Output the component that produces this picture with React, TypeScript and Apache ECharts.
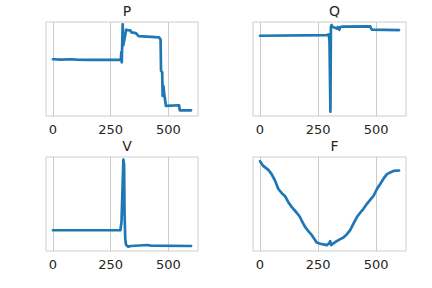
import React, { useEffect, useRef } from "react";
import * as echarts from "echarts";

const TITLES = ["P", "Q", "V", "F"];
const X_TICKS = [0, 250, 500];

const P_X = [0, 36, 79, 101, 165, 294, 296, 298, 302, 304, 310, 317, 323, 335, 340, 359, 364, 371, 460, 466, 468, 473, 475, 478, 481, 484, 489, 546, 549, 598];
const P_Y = [169, 168, 169, 168, 167, 167, 190, 160, 273, 210, 230, 257, 256, 255, 249, 247, 243, 238, 234, 228, 135, 130, 60, 90, 70, 55, 30, 32, 17, 17];

const Q_X = [0, 287, 295, 297, 299, 303, 305, 308, 312, 323, 330, 335, 341, 345, 352, 474, 481, 598];
const Q_Y = [239, 241, 243, 235, 223, 13, 265, 271, 265, 263, 260, 265, 257, 265, 266, 267, 257, 256];

const V_X = [0, 292, 297, 305, 308, 310, 313, 316, 320, 326, 338, 410, 424, 598];
const V_Y = [62, 62, 88, 273, 258, 113, 38, 20, 16, 13, 15, 18, 16, 15];

const F_X = [0, 14, 36, 50, 65, 79, 93, 108, 122, 137, 158, 172, 180, 194, 208, 223, 237, 244, 259, 273, 287, 297, 302, 306, 316, 330, 345, 359, 374, 388, 402, 417, 431, 445, 460, 474, 489, 503, 517, 532, 546, 560, 575, 598];
const F_Y = [272, 258, 246, 233, 213, 188, 176, 166, 148, 133, 116, 103, 91, 73, 60, 48, 33, 26, 22, 20, 18, 23, 30, 18, 23, 30, 36, 41, 51, 63, 83, 103, 116, 128, 143, 155, 168, 188, 203, 220, 233, 238, 243, 244];

const Y_MAX = [280, 280, 281, 285];

const zip = (xs: number[], ys: number[]) => xs.map((x, i) => [x, ys[i]]);

export default function App() {
  const ref = useRef<HTMLDivElement>(null);
  useEffect(() => {
    if (!ref.current) return;
    const chart = echarts.init(ref.current, null, { renderer: "svg" });
    const grids = [
      { left: 46, top: 22, width: 152, height: 94 },
      { left: 253, top: 22, width: 153, height: 94 },
      { left: 46, top: 157, width: 152, height: 94 },
      { left: 253, top: 157, width: 153, height: 94 },
    ];
    const data = [zip(P_X, P_Y), zip(Q_X, Q_Y), zip(V_X, V_Y), zip(F_X, F_Y)];
    chart.setOption({
      animation: false,
      backgroundColor: "#ffffff",
      title: grids.map((g, i) => ({
        text: TITLES[i],
        left: g.left + g.width / 2,
        top: i < 2 ? -1 : 134,
        textAlign: "center",
        textStyle: { fontFamily: "DejaVu Sans", fontSize: 14, fontWeight: "normal", color: "#262626" },
      })),
      grid: grids.map((g) => ({ ...g, show: true, borderColor: "#cccccc", borderWidth: 1, backgroundColor: "transparent" })),
      xAxis: grids.map((_, i) => ({
        type: "value",
        gridIndex: i,
        min: -30,
        max: 628,
        axisLine: { show: false },
        axisTick: { show: false, customValues: X_TICKS },
        axisLabel: { customValues: X_TICKS, fontFamily: "DejaVu Sans", fontSize: 13, color: "#262626", margin: 7 },
        splitLine: { show: true, lineStyle: { color: "#cccccc", width: 1 } },
      })),
      yAxis: grids.map((_, i) => ({
        type: "value",
        gridIndex: i,
        min: 0,
        max: Y_MAX[i],
        axisLine: { show: false },
        axisTick: { show: false },
        axisLabel: { show: false },
        splitLine: { show: false },
      })),
      series: data.map((d, i) => ({
        type: "line",
        xAxisIndex: i,
        yAxisIndex: i,
        data: d,
        showSymbol: false,
        symbol: "none",
        lineStyle: { color: "#1f77b4", width: 2.7, join: "round", cap: "round" },
      })),
    });
    return () => chart.dispose();
  }, []);
  return <div ref={ref} style={{ position: "fixed", left: 0, top: 0, width: 432, height: 288 }} />;
}
